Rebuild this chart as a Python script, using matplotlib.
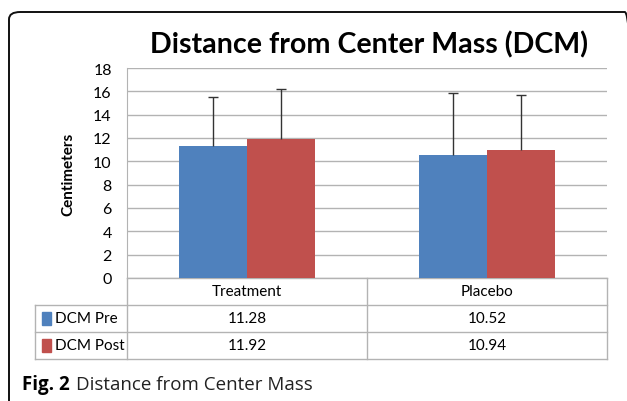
import matplotlib.pyplot as plt
from matplotlib.patches import FancyBboxPatch, Rectangle
import matplotlib.transforms as mtransforms

categories = ["Treatment", "Placebo"]
series = ["DCM Pre", "DCM Post"]
pre_vals = [11.28, 10.52]
post_vals = [11.92, 10.94]
pre_sd = [4.26, 5.36]
post_sd = [4.28, 4.74]
yticks = [0, 2, 4, 6, 8, 10, 12, 14, 16, 18]

c_pre = "#4F81BD"
c_post = "#C0504D"
grid_c = "#B3B3B3"
font = "Lato"

fig = plt.figure(figsize=(6.27, 4.02), dpi=100)

# outer frame, rounded top left corner, runs off right and bottom
frame = FancyBboxPatch((9 / 627, -0.1), 1.0, (402 - 13) / 402 + 0.1,
                       boxstyle="round,pad=0,rounding_size=0.018",
                       transform=fig.transFigure, fill=False,
                       edgecolor="#111111", linewidth=1.4)
fig.patches.append(frame)

ax = fig.add_axes([127 / 627, (402 - 279) / 402, 480 / 627, 210 / 402])

x = list(range(len(categories)))
w = 68 / 240
ax.bar([i - w / 2 for i in x], pre_vals, width=w, color=c_pre, zorder=3)
ax.bar([i + w / 2 for i in x], post_vals, width=w, color=c_post, zorder=3)

# upper-only error bars with a cap on top only
for off, vals, sds in [(-w / 2, pre_vals, pre_sd), (w / 2, post_vals, post_sd)]:
    xs = [i + off for i in x]
    tops = [v + s for v, s in zip(vals, sds)]
    ax.vlines(xs, vals, tops, color="#333333", linewidth=1, zorder=4)
    ax.plot(xs, tops, linestyle="none", marker="_", markersize=7,
            markeredgewidth=1, color="#333333", zorder=4)

ax.set_xlim(-0.5, 1.5)
ax.set_ylim(0, 18)
ax.set_yticks(yticks)
ax.set_yticklabels([str(t) for t in yticks], fontsize=11.5, family=font)
ax.tick_params(axis="y", length=0, pad=11)
ax.set_xticks([])
ax.grid(axis="y", color=grid_c, linewidth=1, zorder=0)
for s in ["top", "right", "bottom"]:
    ax.spines[s].set_visible(False)
ax.spines["left"].set_color(grid_c)

ax.set_ylabel("Centimeters", fontsize=11, fontweight="bold", family=font, labelpad=13)
fig.text(369 / 627, (402 - 45) / 402, "Distance from Center Mass (DCM)", ha="center",
         va="center", fontsize=20.6, fontweight="bold", family=font)

# data table under the plot
trans = mtransforms.blended_transform_factory(ax.transData, ax.transAxes)
rh = 27 / 210
left = -0.5 - 92 / 240
kw = dict(color=grid_c, linewidth=1, transform=trans, clip_on=False)
ax.plot([-0.5, 1.5], [0, 0], **kw)
for xv in [-0.5, 0.5, 1.5]:
    ax.plot([xv, xv], [0, -3 * rh], **kw)
ax.plot([left, left], [-rh, -3 * rh], **kw)
for k in [1, 2, 3]:
    ax.plot([left, 1.5], [-k * rh, -k * rh], **kw)
for i, cat in enumerate(categories):
    ax.text(i, -0.5 * rh, cat, ha="center", va="center", fontsize=11,
            family=font, transform=trans)
rows = [pre_vals, post_vals]
colors = [c_pre, c_post]
for r, (name, vals, col) in enumerate(zip(series, rows, colors)):
    yc = -(r + 1.5) * rh
    ax.add_patch(Rectangle((left + 0.03, yc - 0.03), 0.038, 0.06, color=col,
                           transform=trans, clip_on=False))
    ax.text(left + 0.085, yc, name, ha="left", va="center", fontsize=11,
            family=font, transform=trans)
    for i, v in enumerate(vals):
        ax.text(i, yc, f"{v:.2f}", ha="center", va="center", fontsize=11,
                family=font, transform=trans)

# caption: bold "Fig. 2" followed by plain text
cy = (402 - 385) / 402
t1 = fig.text(22 / 627, cy, "Fig. 2", ha="left", va="center", fontsize=13.5,
              fontweight="bold", family="Open Sans")
fig.canvas.draw()
bb = t1.get_window_extent()
fig.text((bb.x1 + 6) / 627, cy, "Distance from Center Mass", ha="left",
         va="center", fontsize=13.5, family="Open Sans", color="#222222")

fig.savefig("out.png", dpi=100)
